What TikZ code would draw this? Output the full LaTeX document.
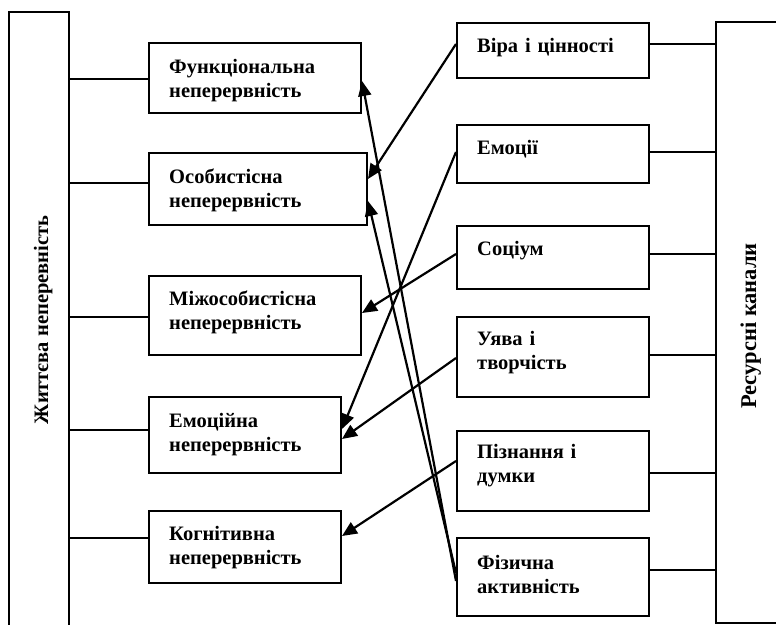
\documentclass[tikz,border=0pt]{standalone}
\usepackage{fontspec}
\setmainfont{Liberation Serif}
\usetikzlibrary{arrows.meta}
\begin{document}
\begin{tikzpicture}[x=1pt,y=-1pt,
  frame/.style={draw=black,line width=2pt,rectangle,inner sep=0pt,anchor=north west},
  lbl/.style={anchor=base west,inner sep=0pt,text width=220pt,align=left,font=\fontsize{20.5}{24}\selectfont\bfseries},
  vlbl/.style={anchor=base,inner sep=0pt,rotate=90,font=\fontsize{20.5}{24}\selectfont\bfseries},
  conn/.style={draw=black,line width=2pt},
  arr/.style={draw=black,line width=2.2pt,-{Triangle[length=15pt,width=13pt]}}]
\useasboundingbox (0,0) rectangle (776,624);
% tall boxes
\node[frame,minimum width=60pt,minimum height=630pt] (life) at (8,11) {};
\node[frame,minimum width=80pt,minimum height=601pt] (res) at (715,21) {};
\node[vlbl] (lifet) at (48,320) {Життєва неперевність};
\node[vlbl,font=\fontsize{22.5}{24}\selectfont\bfseries] (rest) at (756,326) {Ресурсні канали};
% left boxes
\node[frame,minimum width=212pt,minimum height=70pt] (b1) at (148,42) {};
\node[frame,minimum width=218pt,minimum height=72pt] (b2) at (148,152) {};
\node[frame,minimum width=212pt,minimum height=79pt] (b3) at (148,275) {};
\node[frame,minimum width=192pt,minimum height=76pt] (b4) at (148,396) {};
\node[frame,minimum width=192pt,minimum height=72pt] (b5) at (148,510) {};
\node[lbl] (b1t) at (169,73) {Функціональна\\неперервність};
\node[lbl] (b2t) at (169,183) {Особистісна\\неперервність};
\node[lbl] (b3t) at (169,305) {Міжособистісна\\неперервність};
\node[lbl] (b4t) at (169,427) {Емоційна\\неперервність};
\node[lbl] (b5t) at (169,540) {Когнітивна\\неперервність};
% right boxes
\node[frame,minimum width=192pt,minimum height=55pt] (r1) at (456,22) {};
\node[frame,minimum width=192pt,minimum height=58pt] (r2) at (456,124) {};
\node[frame,minimum width=192pt,minimum height=63pt] (r3) at (456,225) {};
\node[frame,minimum width=192pt,minimum height=80pt] (r4) at (456,316) {};
\node[frame,minimum width=192pt,minimum height=80pt] (r5) at (456,430) {};
\node[frame,minimum width=192pt,minimum height=78pt] (r6) at (456,537) {};
\node[lbl] (r1t) at (477,52) {Віра і цінності};
\node[lbl] (r2t) at (477,154) {Емоції};
\node[lbl] (r3t) at (477,255) {Соціум};
\node[lbl] (r4t) at (477,345) {Уява і\\творчість};
\node[lbl] (r5t) at (477,458) {Пізнання і\\думки};
\node[lbl] (r6t) at (477,569) {Фізична\\активність};
% left connectors
\draw[conn] ([yshift=-1pt]b1.west) -- ([yshift=-1pt]b1.west -| life.east);
\draw[conn] ([yshift=6pt]b2.west) -- ([yshift=6pt]b2.west -| life.east);
\draw[conn] ([yshift=-1.5pt]b3.west) -- ([yshift=-1.5pt]b3.west -| life.east);
\draw[conn] ([yshift=5pt]b4.west) -- ([yshift=5pt]b4.west -| life.east);
\draw[conn] ([yshift=9pt]b5.west) -- ([yshift=9pt]b5.west -| life.east);
% right connectors
\draw[conn] ([yshift=6.5pt]r1.east) -- ([yshift=6.5pt]r1.east -| res.west);
\draw[conn] ([yshift=2pt]r2.east) -- ([yshift=2pt]r2.east -| res.west);
\draw[conn] ([yshift=3.5pt]r3.east) -- ([yshift=3.5pt]r3.east -| res.west);
\draw[conn] ([yshift=2pt]r4.east) -- ([yshift=2pt]r4.east -| res.west);
\draw[conn] ([yshift=-2pt]r5.east) -- ([yshift=-2pt]r5.east -| res.west);
\draw[conn] ([yshift=7pt]r6.east) -- ([yshift=7pt]r6.east -| res.west);
% arrows
\draw[arr] ([yshift=6.5pt]r1.west) -- ([yshift=10pt]b2.east);
\draw[arr] ([yshift=2pt]r2.west) -- ([yshift=6pt]b4.east);
\draw[arr] ([yshift=3.5pt]r3.west) -- ([yshift=2.5pt]b3.east);
\draw[arr] ([yshift=-1pt]r4.west) -- ([yshift=-4pt]b4.east);
\draw[arr] ([yshift=10pt]r5.west) -- ([yshift=11pt]b5.east);
\draw[arr] ([yshift=-4pt]r6.west) -- ([yshift=-3pt]b1.east);
\draw[arr] ([yshift=4pt]r6.west) -- ([yshift=-12pt]b2.east);
\end{tikzpicture}
\end{document}
